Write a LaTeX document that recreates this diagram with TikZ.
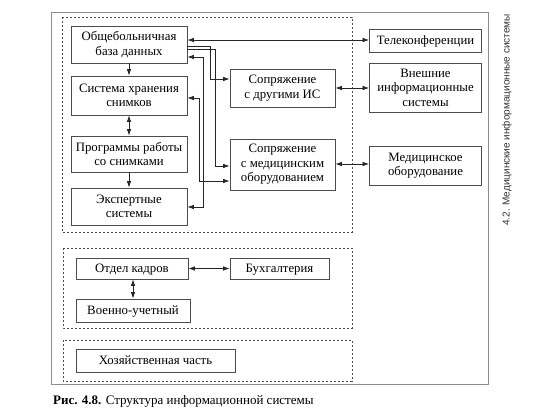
\documentclass[tikz,border=0pt]{standalone}
\usepackage{fontspec}
\setmainfont{Liberation Serif}
\newfontfamily\sidefont{Liberation Sans}
\usetikzlibrary{arrows.meta}
\definecolor{boxline}{gray}{0.3}
\definecolor{frameline}{gray}{0.55}
\tikzset{
  base/.style={draw=boxline, line width=0.8pt, inner sep=1pt,
    font=\fontsize{12.8}{14.5}\selectfont},
  blk/.style={base, align=center},
  oneline/.style={base, text height=10pt, text depth=1pt},
  grp/.style={draw=boxline, line width=0.8pt, dash pattern=on 2.2pt off 1.8pt},
  conn/.style={draw=black!85, line width=0.7pt},
  tip/.tip={Latex[length=6.5pt,width=4.5pt]},
}
\begin{document}
\begin{tikzpicture}[x=1pt,y=-1pt]
\useasboundingbox (0,0) rectangle (554,419);
% outer frame
\draw[frameline, line width=1pt] (51,13) rectangle (488,384);
% dashed groups
\draw[grp] (62,17) rectangle (352,232);
\draw[grp] (63,248) rectangle (352,328);
\draw[grp] (63,340) rectangle (352,381);
% boxes
\node[blk, minimum width=116pt, minimum height=37pt] (obsh) at (129,44.5) {Общебольничная\\база данных};
\node[blk, minimum width=116pt, minimum height=39pt] (sist) at (129,95.5) {Система хранения\\снимков};
\node[blk, minimum width=116pt, minimum height=36pt] (prog) at (129,154) {Программы работы\\со снимками};
\node[blk, minimum width=116pt, minimum height=37pt] (expert) at (129,206.5) {Экспертные\\системы};
\node[blk, minimum width=105pt, minimum height=38pt] (ic) at (282.5,88) {Сопряжение\\с другими ИС};
\node[blk, minimum width=105pt, minimum height=51pt] (med) at (282.5,164.5) {Сопряжение\\с медицинским\\оборудованием};
\node[oneline, minimum width=112pt, minimum height=23pt] (tele) at (425.5,40.5) {Телеконференции};
\node[blk, minimum width=112pt, minimum height=49pt] (vnesh) at (425.5,87.5) {Внешние\\информационные\\системы};
\node[blk, minimum width=112pt, minimum height=39pt] (medob) at (425.5,165.5) {Медицинское\\оборудование};
\node[oneline, minimum width=112pt, minimum height=21pt] (kadr) at (132,268.5) {Отдел кадров};
\node[oneline, minimum width=99pt, minimum height=21pt] (buh) at (279.5,268.5) {Бухгалтерия};
\node[oneline, minimum width=114pt, minimum height=23pt] (voen) at (133,310.5) {Военно-учетный};
\node[oneline, minimum width=159pt, minimum height=23pt] (hoz) at (155.5,360.5) {Хозяйственная часть};
% connectors
\draw[conn, tip-tip] (obsh.east |- 0,40) -- (tele.west |- 0,40);
\draw[conn, -tip] (obsh.east |- 0,46) -- (210,46) |- (ic.west |- 0,79);
\draw[conn, -tip] (obsh.east |- 0,49) -- (215,49) |- (med.west |- 0,166);
\draw[conn, tip-tip] (obsh.east |- 0,57) -- (203,57) |- (expert.east |- 0,207);
\draw[conn, tip-tip] (sist.east |- 0,98) -- (199,98) |- (med.west |- 0,181);
\draw[conn, tip-tip] (ic.east |- 0,88) -- (vnesh.west |- 0,88);
\draw[conn, tip-tip] (med.east |- 0,164) -- (medob.west |- 0,164);
\draw[conn, -tip] (obsh.south) -- (sist.north);
\draw[conn, tip-tip] (sist.south) -- (prog.north);
\draw[conn, -tip] (prog.south) -- (expert.north);
\draw[conn, tip-tip] (kadr.east) -- (buh.west);
\draw[conn, tip-tip] (kadr.south -| 133,0) -- (voen.north -| 133,0);
% side title
\node[font=\sidefont\fontsize{10}{12}\selectfont, rotate=90, text=black!80] (side) at (507,120) {4.2. Медицинские информационные системы};
% caption
\node[anchor=base west, inner sep=0pt, font=\fontsize{13}{15}\selectfont] (cap) at (53,404) {\textbf{Рис. 4.8.} Структура информационной системы};
\end{tikzpicture}
\end{document}
